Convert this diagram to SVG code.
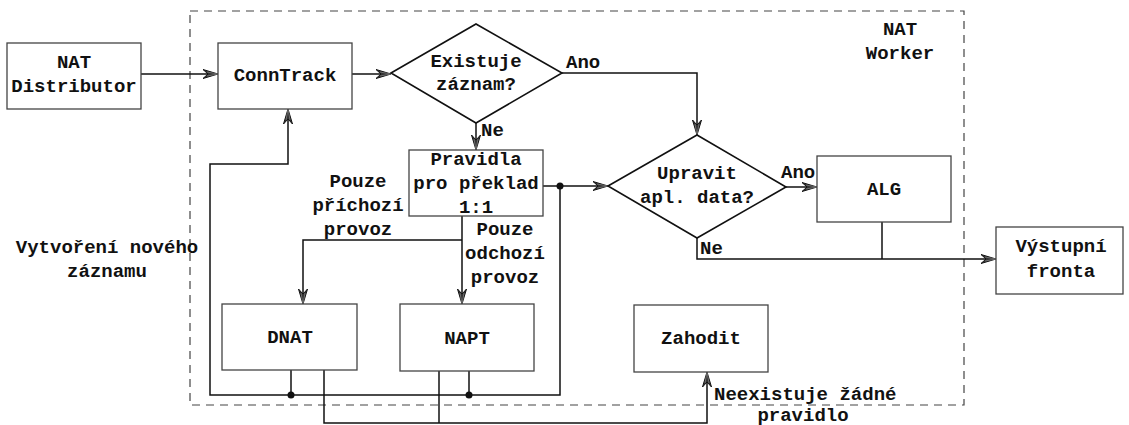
<svg xmlns="http://www.w3.org/2000/svg" width="1129" height="425" viewBox="0 0 1129 425">
<style>
text{font-family:"Liberation Mono","Courier New",monospace;font-weight:bold;font-size:19px;fill:#111}
.c{text-anchor:middle}
.box{fill:#fff;stroke:#444;stroke-width:1.3}
.dia{fill:#fff;stroke:#111;stroke-width:1.6}
.ln{fill:none;stroke:#111;stroke-width:1.5}
.arr{marker-end:url(#ah)}
.dot{fill:#111}
</style>
<defs>
<marker id="ah" viewBox="0 0 16 10" refX="15" refY="5" markerWidth="16" markerHeight="10" markerUnits="userSpaceOnUse" orient="auto">
<path d="M0,0.5 L15,5 L0,9.5 L5,5 Z" fill="#333" stroke="#111" stroke-width="1"/>
<path d="M4,3 L15,5 L4,7" fill="none" stroke="#999" stroke-width="0.6"/>
</marker>
</defs>
<rect x="190" y="11" width="774" height="394" fill="none" stroke="#444" stroke-width="1.2" stroke-dasharray="8,6"/>
<text class="c" x="900" y="35">NAT</text>
<text class="c" x="900" y="59">Worker</text>
<g id="connectors">
<path class="ln arr" d="M141,74 H218"/>
<path class="ln arr" d="M352,74 H391"/>
<path class="ln arr" d="M562,73 H697 V135"/>
<path class="ln arr" d="M476,123 V150"/>
<path class="ln arr" d="M543,186 H608"/>
<path class="ln arr" d="M786,187 H817"/>
<path class="ln arr" d="M697,238 V259 H996"/>
<path class="ln" d="M882,222 V259"/>
<path class="ln arr" d="M462,216 V304"/>
<path class="ln arr" d="M462,240 H303 V304"/>
<path class="ln arr" d="M560,186 V395 H210 V164 H288 V109"/>
<path class="ln" d="M291,370 V395"/>
<path class="ln" d="M469,371 V395"/>
<path class="ln arr" d="M324,370 V423 H707 V372"/>
<path class="ln" d="M439,371 V423"/>
<circle class="dot" cx="560" cy="186" r="3.5"/>
<circle class="dot" cx="291" cy="395" r="3.5"/>
<circle class="dot" cx="469" cy="395" r="3.5"/>
<text x="566" y="68">Ano</text>
<text x="481" y="136">Ne</text>
<text x="781" y="178">Ano</text>
<text x="700" y="254">Ne</text>
<text class="c" x="358" y="187">Pouze</text>
<text class="c" x="358" y="211">příchozí</text>
<text class="c" x="358" y="235">provoz</text>
<text class="c" x="505" y="235">Pouze</text>
<text class="c" x="505" y="259">odchozí</text>
<text class="c" x="505" y="283">provoz</text>
<text class="c" x="107" y="253">Vytvoření nového</text>
<text class="c" x="107" y="277">záznamu</text>
<text x="714" y="400">Neexistuje žádné</text>
<text class="c" x="803" y="421">pravidlo</text>
</g>
<g id="nat-distributor">
<rect class="box" x="7" y="43" width="134" height="66"/>
<text class="c" x="74" y="68">NAT</text>
<text class="c" x="74" y="92">Distributor</text>
</g>
<g id="conntrack">
<rect class="box" x="218" y="43" width="134" height="66"/>
<text class="c" x="285" y="81">ConnTrack</text>
</g>
<g id="existuje">
<path class="dia" d="M391,73 L476,24 L562,73 L476,123 Z"/>
<text class="c" x="476" y="67">Existuje</text>
<text class="c" x="476" y="90">záznam?</text>
</g>
<g id="pravidla">
<rect class="box" x="409" y="150" width="134" height="66"/>
<text class="c" x="476" y="165">Pravidla</text>
<text class="c" x="476" y="189">pro překlad</text>
<text class="c" x="476" y="213">1:1</text>
</g>
<g id="upravit">
<path class="dia" d="M608,186 L697,135 L786,187 L697,238 Z"/>
<text class="c" x="697" y="179">Upravit</text>
<text class="c" x="697" y="203">apl. data?</text>
</g>
<g id="alg">
<rect class="box" x="817" y="156" width="134" height="66"/>
<text class="c" x="884" y="195">ALG</text>
</g>
<g id="vystupni">
<rect class="box" x="996" y="227" width="127" height="67"/>
<text class="c" x="1061" y="252">Výstupní</text>
<text class="c" x="1061" y="277">fronta</text>
</g>
<g id="dnat">
<rect class="box" x="222" y="304" width="135" height="66"/>
<text class="c" x="290" y="343">DNAT</text>
</g>
<g id="napt">
<rect class="box" x="400" y="304" width="134" height="67"/>
<text class="c" x="467" y="344">NAPT</text>
</g>
<g id="zahodit">
<rect class="box" x="634" y="305" width="134" height="67"/>
<text class="c" x="701" y="344">Zahodit</text>
</g>
</svg>
